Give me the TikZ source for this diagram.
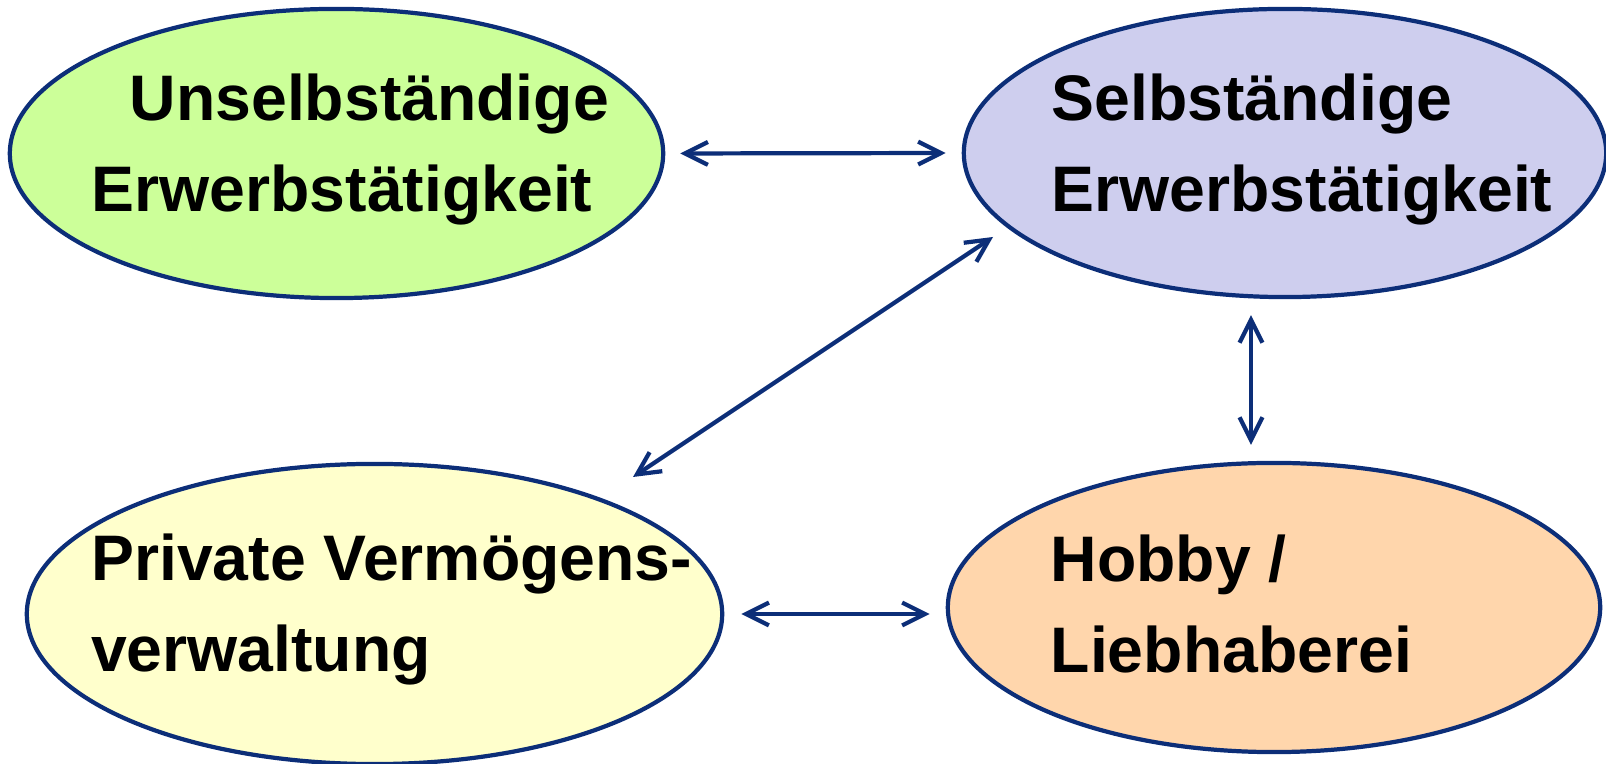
\documentclass[tikz,border=0pt]{standalone}
\usepackage{fontspec}
\setmainfont{Liberation Sans}
\usetikzlibrary{arrows.meta,shapes.geometric,calc}

\definecolor{rand}{RGB}{12,46,120}
\definecolor{gruen}{RGB}{204,255,153}
\definecolor{lila}{RGB}{206,206,238}
\definecolor{gelb}{RGB}{255,255,204}
\definecolor{pfirsich}{RGB}{255,214,172}

\tikzset{
  feld/.style={ellipse, draw=rand, line width=1.2pt, inner sep=0pt},
  schrift/.style={anchor=base west, inner sep=0pt, align=left,
    font=\bfseries\fontsize{18.3}{25.9}\selectfont},
  pfeil/.style={{Straight Barb[length=6.5pt,width=6.5pt]}-{Straight Barb[length=6.5pt,width=6.5pt]},
    draw=rand, line width=1.2pt, line cap=round},
}

\begin{document}
\begin{tikzpicture}[x=0.01cm,y=0.01cm]
\useasboundingbox (0,0) rectangle (1606,764);

%% 四个椭圆(中心, 宽, 高)
\node[feld, fill=gruen, minimum width=6.53cm, minimum height=2.89cm] (unselb) at (336.5,610.5) {};
\node[feld, fill=lila, minimum width=6.42cm, minimum height=2.88cm] (selb) at (1285,611) {};
\node[feld, fill=gelb, minimum width=6.95cm, minimum height=3.00cm] (priv) at (374.5,150) {};
\node[feld, fill=pfirsich, minimum width=6.52cm, minimum height=2.89cm] (hobby) at (1274,156.5) {};

%% 文字:左对齐, 最后一行基线
\node[schrift] (unselbT) at (91,552) {\hspace*{0.38cm}Unselbständige\\Erwerbstätigkeit};
\node[schrift] (selbT) at (1051,552) {Selbständige\\Erwerbstätigkeit};
\node[schrift] (privT) at (90.5,92) {Private Vermögens-\\verwaltung};
\node[schrift] (hobbyT) at (1050,91) {Hobby /\\Liebhaberei};

%% 双向箭头
\draw[pfeil, shorten <=0.15cm, shorten >=0.16cm] (unselb.east) -- (selb.west);
\draw[pfeil] ($(selb.center)+(-292,-84)$) -- ($(priv.center)+(258.5,137)$);
\draw[pfeil] ($(selb.south)+(-34,-16)$) -- ($(hobby.north)+(-23,16)$);
\draw[pfeil, shorten <=0.17cm, shorten >=0.16cm] (priv.east) -- (priv.east -| hobby.west);

\end{tikzpicture}
\end{document}
